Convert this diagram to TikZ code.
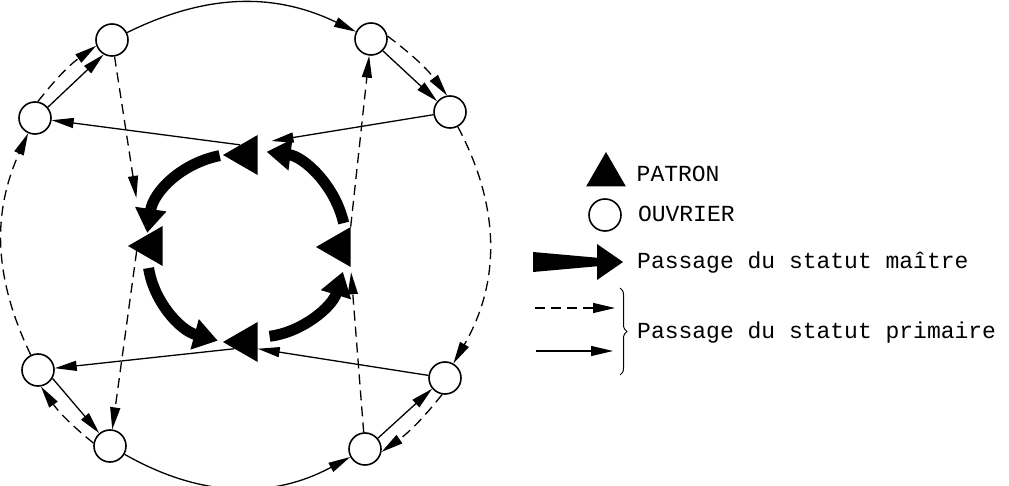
\documentclass[tikz,border=0pt]{standalone}
\usepackage{fontspec}
\newfontfamily\machine{Liberation Mono}
\usetikzlibrary{positioning, shapes.geometric, arrows.meta, decorations.pathreplacing}
\tikzset{
	ouvrier/.style = {
		draw = black,
		fill = white,
		circle,
		line width = 1.6pt,
		minimum size = 32pt,
		inner sep = 0pt
	},
	patron/.style = {
		fill = black,
		regular polygon,
		regular polygon sides = 3,
		shape border rotate = 90,
		minimum size = 46pt,
		inner sep = 0pt
	},
	primaire/.style = {
		line width = 1.3pt,
		-{Triangle[length = 22pt, width = 10pt]}
	},
	pointille/.style = {
		primaire,
		dash pattern = on 10pt off 6pt
	},
	maitre/.style = {
		line width = 11pt,
		-{Triangle[length = 24pt, width = 30pt]}
	},
	legende/.style = {
		font = \machine\fontsize{23}{26}\selectfont,
		text height = 14pt,
		text depth = 0pt,
		inner sep = 0pt
	}
}

\begin{document}
\begin{tikzpicture}[x = 1pt, y = 1pt]
	\useasboundingbox (0, 0) rectangle (1009, -486) ;

	\node [patron] (ptop) at (246, -155) {} ;
	\node [patron] (pleft) at (151, -246) {} ;
	\node [patron] (pright) at (339, -247) {} ;
	\node [patron] (pbottom) at (246, -342) {} ;

	\node [ouvrier] (nnw) at (112, -40) {} ;
	\node [ouvrier] (wnw) at (35, -118) {} ;
	\node [ouvrier] (nne) at (371, -39) {} ;
	\node [ouvrier] (ene) at (450, -112) {} ;
	\node [ouvrier] (wsw) at (38, -370) {} ;
	\node [ouvrier] (ssw) at (110, -446) {} ;
	\node [ouvrier] (sse) at (365, -449) {} ;
	\node [ouvrier] (ese) at (445, -378) {} ;

	\draw [primaire] (nnw) to [bend left = 26] (nne) ;
	\draw [primaire] (ssw) to [bend right = 29] (sse) ;
	\draw [pointille] (wsw) to [bend left = 25] (wnw) ;
	\draw [pointille] (ene) to [bend left = 29] (ese) ;

	\draw [pointille] (wnw.80) to [bend left = 8] (nnw.200) ;
	\draw [primaire] (wnw.40) -- (nnw.240) ;
	\draw [pointille] (nne.10) to [bend left = 8] (ene.100) ;
	\draw [primaire] (nne.-45) -- (ene.140) ;
	\draw [primaire] (sse.40) -- (ese.220) ;
	\draw [pointille] (ese.-100) to [bend left = 8] (sse.-10) ;
	\draw [primaire] (wsw.-30) -- (ssw.130) ;
	\draw [pointille] (ssw.170) to [bend left = 8] (wsw.-80) ;

	\draw [primaire, shorten >= 14pt] (ene) -- (ptop.45) ;
	\draw [primaire] (ptop.120) -- (wnw) ;
	\draw [primaire] (ese) -- (pbottom.-30) ;
	\draw [primaire] (pbottom.210) -- (wsw) ;
	\draw [pointille, shorten >= 40pt] (nnw) -- (pleft.135) ;
	\draw [pointille] (pleft.200) -- (ssw) ;
	\draw [pointille, shorten >= 5pt] (sse) -- (pright.corner 2) ;
	\draw [pointille] (pright.corner 3) -- (nne) ;

	\draw [maitre, shorten <= 3pt, shorten >= 2pt] (ptop.corner 1) to [bend right = 35] (pleft.110) ;
	\draw [maitre, shorten <= 11pt, shorten >= 5pt] (pleft.250) to [bend right = 33] (pbottom.corner 1) ;
	\draw [maitre, shorten <= 12pt, shorten >= 8pt] (pbottom.20) to [bend right = 33] (pright.290) ;
	\draw [maitre, shorten <= 7pt, shorten >= 9pt] (pright.70) to [bend right = 35] (ptop.20) ;

	\node [patron, shape border rotate = 0] (lpatron) at (606, -175) {} ;
	\node [legende, right = 17pt of lpatron] {PATRON} ;
	\node [ouvrier] (louvrier) at (605, -215) {} ;
	\node [legende, right = 16pt of louvrier] {OUVRIER} ;
	\coordinate (lmaitre) at (623, -262) ;
	\fill (533, -252) -- (600, -258) -- (600, -266) -- (533, -272) -- cycle ;
	\fill (597, -244) -- (lmaitre) -- (597, -280) -- cycle ;
	\node [legende, right = 14pt of lmaitre] {Passage du statut maître} ;
	\coordinate (lpointille) at (535, -308) ;
	\coordinate (lprimaire) at (536, -351) ;
	\draw [pointille] (lpointille) -- ++(80, 0) ;
	\draw [primaire] (lprimaire) -- ++(77, 0) ;
	\draw [decorate, decoration = {brace, amplitude = 7pt}, line width = 1pt] (620, -288) -- (620, -375) ;
	\coordinate (accolade) at (628, -331) ;
	\node [legende, right = 9pt of accolade] {Passage du statut primaire} ;
\end{tikzpicture}
\end{document}
